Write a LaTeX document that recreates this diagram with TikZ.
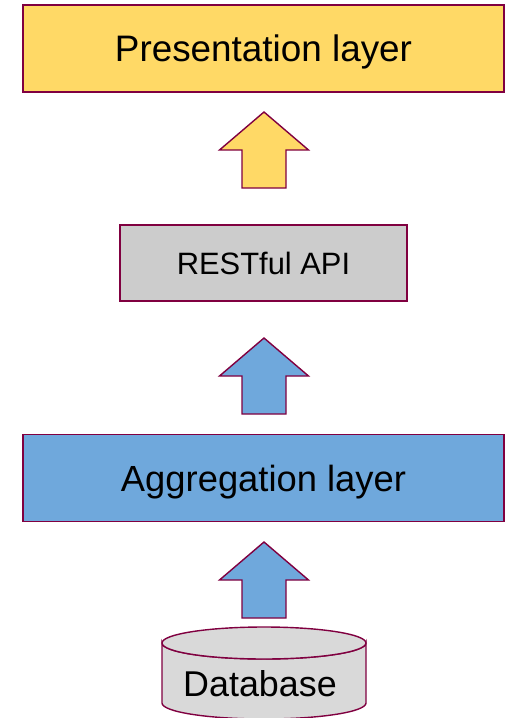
\documentclass[tikz,border=0pt]{standalone}
\usepackage{fontspec}
\setmainfont{Liberation Sans}
\definecolor{edge}{RGB}{128,0,64}
\definecolor{gold}{RGB}{255,217,102}
\definecolor{skyblue}{RGB}{111,168,220}
\definecolor{apigray}{RGB}{204,204,204}
\definecolor{dbgray}{RGB}{217,217,217}

\tikzset{
  outline/.style={draw=edge, line width=1.4bp, line join=miter},
  layerbox/.style={outline, rectangle, inner sep=0pt, text depth=0pt},
  blockarrow/.style={outline},
}

% upward block arrow, tip at the origin
\newcommand\uparrowshape[2]{%
  \draw[blockarrow, fill=#2, shift={#1}]
    (0,0) -- (44.5,38) -- (22,38) -- (22,76) -- (-22,76) -- (-22,38) -- (-44.5,38) -- cycle;}

\begin{document}
\begin{tikzpicture}[x=1bp, y=-1bp]
\useasboundingbox (0,0) rectangle (513,718);

% layers
\node[layerbox, fill=gold, minimum width=481bp, minimum height=87bp,
  text height=26.5bp, font=\fontsize{37}{40}\selectfont]
  (pres) at (263.5,48.5) {Presentation layer};
\node[layerbox, fill=apigray, minimum width=287bp, minimum height=76bp,
  text height=22.2bp, font=\fontsize{31}{34}\selectfont]
  (api) at (263.5,263) {RESTful API};
\node[layerbox, fill=skyblue, minimum width=481bp, minimum height=87bp,
  text height=26.1bp, font=\fontsize{36.5}{40}\selectfont]
  (agg) at (263.5,478) {Aggregation layer};

% arrows between the layers
\uparrowshape{(264,112)}{gold}
\uparrowshape{(264,338)}{skyblue}
\uparrowshape{(264,542)}{skyblue}

% database cylinder
\path[outline, fill=dbgray]
  (162,643) -- (162,703) arc[start angle=180, end angle=0, x radius=102, y radius=16]
  -- (366,643) arc[start angle=0, end angle=180, x radius=102, y radius=16] -- cycle;
\draw[outline, fill=dbgray] (264,643) ellipse[x radius=102, y radius=16];
\node[inner sep=0pt, text depth=0pt, text height=25.8bp, font=\fontsize{36}{40}\selectfont]
  (db) at (260,684) {Database};
\end{tikzpicture}
\end{document}
